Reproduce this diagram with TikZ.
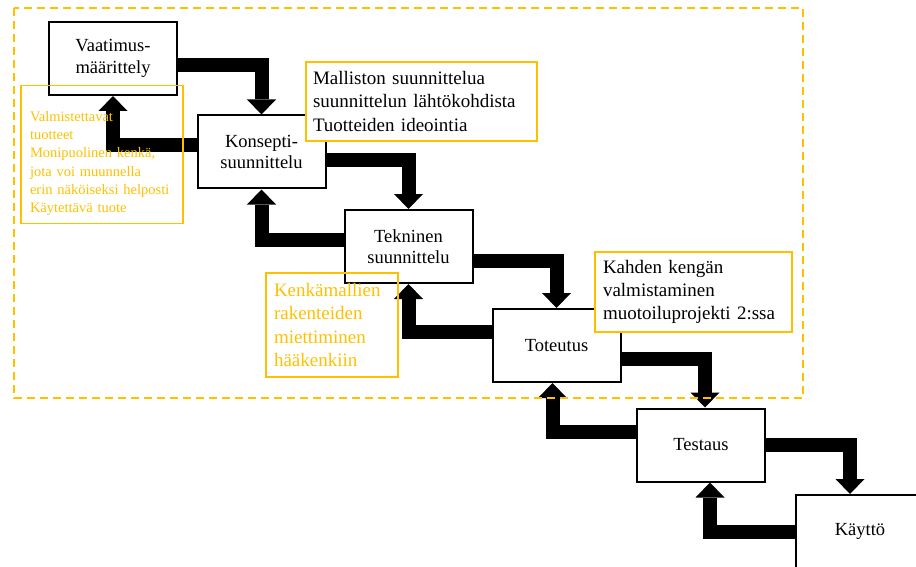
\documentclass[tikz,border=0pt]{standalone}
\usepackage{fontspec}
\setmainfont{Liberation Serif}
\usetikzlibrary{arrows.meta,calc}

\definecolor{noteyellow}{HTML}{FFC000}

\begin{document}
\begin{tikzpicture}[x=1pt, y=-1pt, line join=miter,
    phase/.style={draw, line width=2pt, fill=white, minimum width=128pt, minimum height=73pt,
      inner sep=0pt, align=center, font=\fontsize{18.5}{21.5}\selectfont},
    flow/.style={line width=14pt, -{Triangle[length=15pt, width=29pt, line width=0pt]}},
    note/.style={draw=noteyellow, line width=1.3pt, align=left, inner xsep=8pt, inner ysep=0pt,
      font=\fontsize{19}{23.3}\selectfont},
    smallnote/.style={note, text=noteyellow, inner xsep=9pt, inner ysep=7.7pt,
      font=\fontsize{14.5}{18.3}\selectfont}]

  % Fix the size of the picture
  \useasboundingbox (0,0) rectangle (916,567);

  % Draw the phases
  \node[phase] (vaat) at (113,58.5) {Vaatimus-\\määrittely};
  \node[phase] (kons) at (261.5,152) {Konsepti-\\suunnittelu};
  \node[phase] (tekn) at (408.5,246.5) {Tekninen\\suunnittelu};
  \node[phase] (tote) at (556.5,345.5) {Toteutus};
  \node[phase] (test) at (701,445) {Testaus};
  \node[phase] (kaytto) at (860,531.5) {Käyttö};

  % Draw the arrows down the steps
  \draw[flow] ($(vaat.east)+(0,6.5)$) -| (kons.north);
  \draw[flow] ($(kons.east)+(0,8.5)$) -| (tekn.north);
  \draw[flow] ($(tekn.east)+(0,14.5)$) -| (tote.north);
  \draw[flow] ($(tote.east)+(0,13.5)$) -| ($(test.north)+(4,0)$);
  \draw[flow] (test.east) -| ($(kaytto.north)+(-10,0)$);

  % Draw the arrows back up
  \draw[flow] ($(kons.west)+(0,-7)$) -| (vaat.south);
  \draw[flow] ($(tekn.west)+(0,-6.5)$) -| (kons.south);
  \draw[flow] ($(tote.west)+(0,-13.5)$) -| (tekn.south);
  \draw[flow] ($(test.west)+(0,-13)$) -| ($(tote.south)+(-4,0)$);
  \draw[flow] (kaytto.west) -| ($(test.south)+(9,0)$);

  % Draw the notes
  \node[smallnote, text width=144pt, anchor=north] (vaat-note) at (102,85)
    {\rule{0pt}{28pt}Valmistettavat\\tuotteet\\Monipuolinen kenkä,\\jota voi muunnella\\erin näköiseksi helposti\\Käytettävä tuote};
  \node[note, fill=white, text width=217pt, inner xsep=7pt, minimum height=79pt] (kons-note) at (421.5,101.5)
    {Malliston suunnittelua\\suunnittelun lähtökohdista\\Tuotteiden ideointia};
  \node[note, text=noteyellow, text width=116pt, minimum height=104pt] (tekn-note) at (332,325)
    {Kenkämallien\\rakenteiden\\miettiminen\\hääkenkiin};
  \node[note, fill=white, text width=181pt, minimum height=80pt] (tote-note) at (693.5,292)
    {Kahden kengän\\valmistaminen\\muotoiluprojekti 2:ssa};

  % Draw the frame round the design phases
  \draw[noteyellow, line width=2.3pt, dash pattern=on 8pt off 5pt] (14,8) rectangle (803,398);

\end{tikzpicture}
\end{document}
